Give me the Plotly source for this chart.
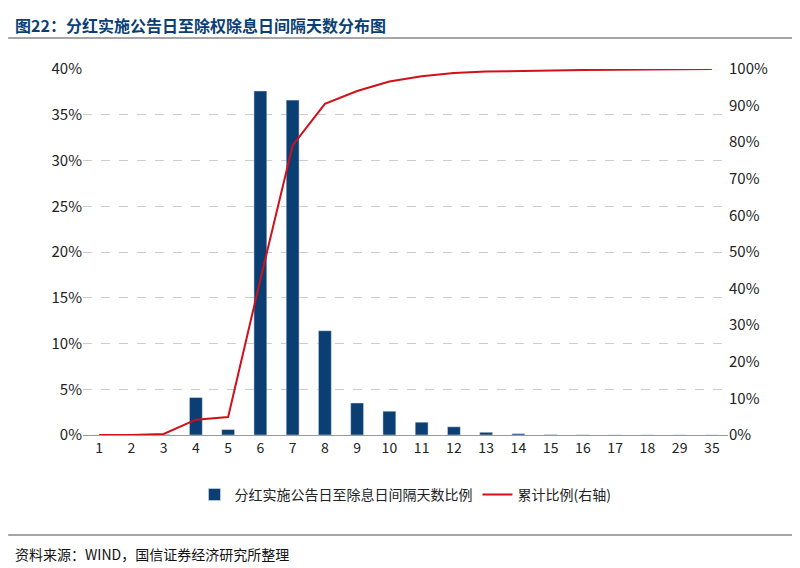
import plotly.graph_objects as go

cats = ["1","2","3","4","5","6","7","8","9","10","11","12","13","14","15","16","17","18","29","35"]
ratio = [0.0,0.0,0.05,4.1,0.6,37.6,36.6,11.4,3.5,2.6,1.4,0.9,0.3,0.15,0.05,0.02,0.01,0.01,0.01,0.01]
cum = [0.0,0.0,0.3,4.2,4.9,42.5,79.1,90.5,94.0,96.6,98.0,98.9,99.3,99.5,99.6,99.7,99.8,99.9,99.95,100.0]
left_ticks = [0,5,10,15,20,25,30,35,40]
right_ticks = [0,10,20,30,40,50,60,70,80,90,100]

font = "Noto Sans CJK SC"
fig = go.Figure()
fig.add_trace(go.Bar(x=cats, y=ratio, name="分红实施公告日至除息日间隔天数比例",
                     marker_color="#0b3f73", width=0.4))
fig.add_trace(go.Scatter(x=cats, y=cum, name="累计比例(右轴)", yaxis="y2", mode="lines",
                         line=dict(color="#d0101b", width=2)))
fig.update_layout(
    width=800, height=568, plot_bgcolor="white", paper_bgcolor="white",
    font=dict(family=font, size=14, color="#222"),
    margin=dict(l=75, r=80, t=61, b=141),
    xaxis=dict(type="category", showline=True, linecolor="#999", ticks="", tickfont=dict(size=14)),
    yaxis=dict(range=[0,40], tickvals=left_ticks, ticktext=[f"{v}%" for v in left_ticks],
               showgrid=True, gridcolor="#cccccc", griddash="dash", zeroline=False, tickfont=dict(size=15)),
    yaxis2=dict(range=[0,100], overlaying="y", side="right", tickvals=right_ticks,
                ticktext=[f"{v}%" for v in right_ticks], showgrid=False, tickfont=dict(size=15)),
    legend=dict(orientation="h", x=0.5, xanchor="center", y=-0.12, yanchor="top", font=dict(size=14)),
    bargap=0.5,
)
fig.add_annotation(text="<b>图22：分红实施公告日至除权除息日间隔天数分布图</b>", xref="paper", yref="paper",
                   x=0, xanchor="left", y=1, yanchor="bottom", showarrow=False,
                   xshift=-70, yshift=30, font=dict(size=16, color="#0b3f73"))
fig.add_annotation(text="资料来源：WIND，国信证券经济研究所整理", xref="paper", yref="paper",
                   x=0, xanchor="left", y=0, yanchor="top", showarrow=False,
                   xshift=-70, yshift=-107, font=dict(size=14, color="#111"))
fig.add_shape(type="line", xref="paper", yref="paper", x0=-0.116, x1=1.124, y0=1.085, y1=1.085,
              line=dict(color="#888", width=1.5))
fig.add_shape(type="line", xref="paper", yref="paper", x0=-0.116, x1=1.124, y0=-0.273, y1=-0.273,
              line=dict(color="#888", width=1.5))
fig.write_html("out.html")
